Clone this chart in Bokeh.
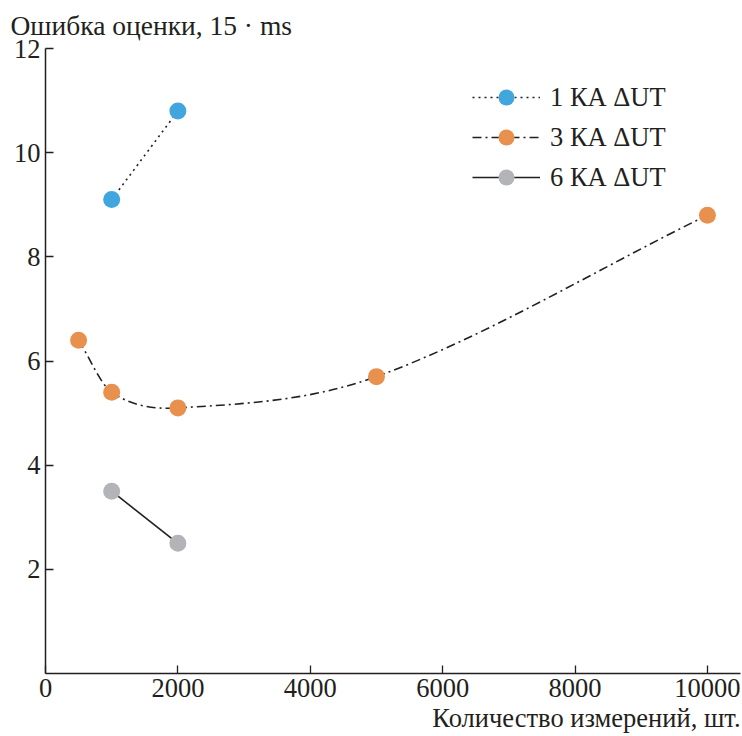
import numpy as np
from bokeh.plotting import figure
from bokeh.models import Range1d, FixedTicker, Title, Legend, LegendItem
from bokeh.embed import file_html
from bokeh.resources import INLINE

# ---- data ----
x_ticks = [0, 2000, 4000, 6000, 8000, 10000]
y_ticks = [2, 4, 6, 8, 10, 12]

ka1_x = [1000, 2000]
ka1_y = [9.1, 10.8]

ka3_x = [500, 1000, 2000, 5000, 10000]
ka3_y = [6.4, 5.4, 5.1, 5.7, 8.8]

ka6_x = [1000, 2000]
ka6_y = [3.5, 2.5]

series_labels = ["1 КА ΔUT", "3 КА ΔUT", "6 КА ΔUT"]
y_title = "Ошибка оценки, 15 · ms"
x_title = "Количество измерений, шт."

# ---- style ----
FONT = "Liberation Serif"
INK = "#231F20"
BLUE = "#41A5DE"
ORANGE = "#E8914F"
GRAY = "#B3B4B8"
FS = "26.5px"

p = figure(width=742, height=736, output_backend="svg", toolbar_location=None,
           x_range=Range1d(0, 10500), y_range=Range1d(0, 12),
           min_border_left=45, min_border_right=2, min_border_top=48, min_border_bottom=63)
p.outline_line_color = None
p.xgrid.visible = False
p.ygrid.visible = False
p.background_fill_color = "white"
p.border_fill_color = "white"

for ax in (p.xaxis[0], p.yaxis[0]):
    ax.axis_line_color = INK
    ax.axis_line_width = 1.5
    ax.major_tick_line_color = INK
    ax.major_tick_line_width = 1.3
    ax.major_tick_in = 8
    ax.major_tick_out = 0
    ax.minor_tick_line_color = None
    ax.major_label_text_font = FONT
    ax.major_label_text_font_size = FS
    ax.major_label_text_color = INK
p.xaxis[0].ticker = FixedTicker(ticks=x_ticks)
p.yaxis[0].ticker = FixedTicker(ticks=y_ticks)
p.xaxis[0].major_label_standoff = 5
p.yaxis[0].major_label_standoff = 5


def smooth_segments(xs, ys):
    xs = np.asarray(xs, float)
    ys = np.asarray(ys, float)
    n = len(xs)
    m = np.empty(n)
    m[0] = (ys[1] - ys[0]) / (xs[1] - xs[0])
    m[-1] = (ys[-1] - ys[-2]) / (xs[-1] - xs[-2])
    for i in range(1, n - 1):
        m[i] = (ys[i + 1] - ys[i - 1]) / (xs[i + 1] - xs[i - 1])
    dx = np.diff(xs)
    return dict(x0=xs[:-1], y0=ys[:-1], x1=xs[1:], y1=ys[1:],
                cx0=xs[:-1] + dx / 3, cy0=ys[:-1] + m[:-1] * dx / 3,
                cx1=xs[1:] - dx / 3, cy1=ys[1:] - m[1:] * dx / 3)


l1 = p.line(ka1_x, ka1_y, line_color=INK, line_width=1.6, line_dash="2 4")
l6 = p.line(ka6_x, ka6_y, line_color=INK, line_width=1.6)
seg = smooth_segments(ka3_x, ka3_y)
l3 = p.bezier(line_color=INK, line_width=1.6, line_dash="9 4 2 4", **seg)

s1 = p.scatter(ka1_x, ka1_y, size=17, fill_color=BLUE, line_color=None)
s3 = p.scatter(ka3_x, ka3_y, size=17, fill_color=ORANGE, line_color=None)
s6 = p.scatter(ka6_x, ka6_y, size=17, fill_color=GRAY, line_color=None)

legend = Legend(items=[
    LegendItem(label=series_labels[0], renderers=[l1, s1]),
    LegendItem(label=series_labels[1], renderers=[l3, s3]),
    LegendItem(label=series_labels[2], renderers=[l6, s6]),
], location=(427, 476))
legend.border_line_color = None
legend.background_fill_alpha = 0
legend.padding = 0
legend.margin = 0
legend.spacing = -2
legend.glyph_width = 68
legend.glyph_height = 40
legend.label_standoff = 10
legend.label_text_font = FONT
legend.label_text_font_size = FS
legend.label_text_color = INK
p.add_layout(legend)

top = Title(text=y_title, align="left", offset=-35, standoff=15,
            text_font=FONT, text_font_size="27.5px", text_color=INK, text_font_style="normal")
p.add_layout(top, "above")
bottom = Title(text=x_title, align="right", offset=0, standoff=3,
               text_font=FONT, text_font_size=FS, text_color=INK, text_font_style="normal")
p.add_layout(bottom, "below")

open("out.html", "w").write(file_html(p, INLINE))
